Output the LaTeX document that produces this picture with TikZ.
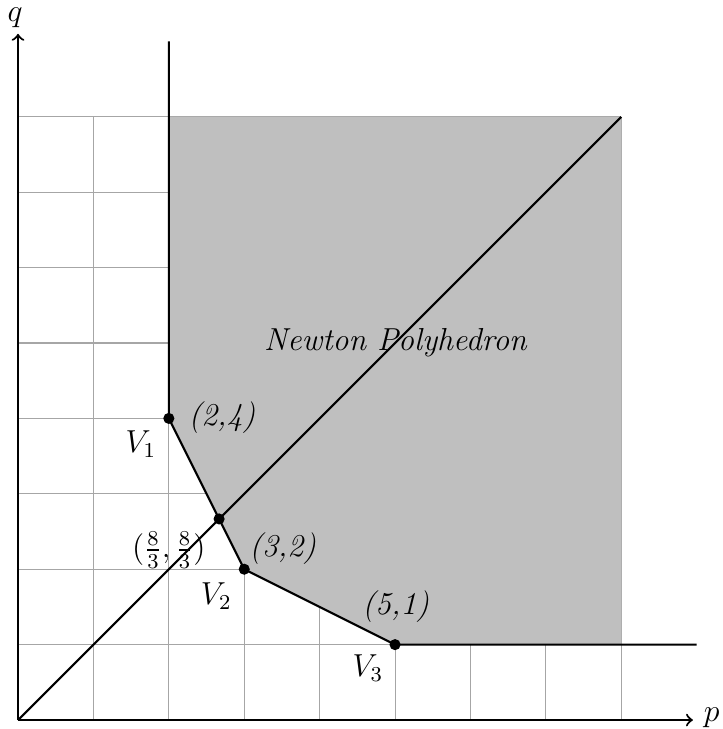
\documentclass[tikz,border=0pt]{standalone}
\begin{document}
\begin{tikzpicture}[x=1cm,y=1cm,
  gridline/.style={gray!70, line width=0.4pt},
  edge/.style={black, thick},
  vdot/.style={circle, fill=black, inner sep=0pt, minimum size=4.2pt},
  lbl/.style={font=\large, inner sep=0pt}]
\useasboundingbox (-0.239,-0.119) rectangle (9.337,9.549);
\draw[gridline] (0,0) grid (8,8);
\fill[gray!50] (2,8) -- (2,4) -- (8/3,8/3) -- (3,2) -- (5,1) -- (8,1) -- (8,8) -- cycle;
\draw[thick,->] (0,0) -- (8.95,0);
\draw[thick,->] (0,0) -- (0,9.1);
\node[lbl] (p) at (9.2,0.03) {$p$};
\node[lbl] (q) at (-0.04,9.31) {$q$};
\node[vdot] (v1) at (2,4) {};
\node[vdot] (m) at (8/3,8/3) {};
\node[vdot] (v2) at (3,2) {};
\node[vdot] (v3) at (5,1) {};
\coordinate (o) at (0,0);
\coordinate (d) at (8,8);
\coordinate (top) at (2,9);
\coordinate (right) at (9,1);
\draw[edge] (top) -- (v1.center) -- (m.center) -- (v2.center) -- (v3.center) -- (right);
\draw[edge] (o) -- (d);
\node[lbl] (l1) at (2.705,4.005) {\textit{(2,4)}};
\node[lbl] (n1) at (1.63,3.66) {$V_1$};
\node[lbl] (lm) at (2.0,2.25) {$(\frac{8}{3},\frac{8}{3})$};
\node[lbl] (l2) at (3.51,2.28) {\textit{(3,2)}};
\node[lbl] (n2) at (2.63,1.64) {$V_2$};
\node[lbl] (l3) at (5.01,1.50) {\textit{(5,1)}};
\node[lbl] (n3) at (4.64,0.69) {$V_3$};
\node[lbl] (np) at (5.01,5.0) {\textit{Newton Polyhedron}};
\end{tikzpicture}
\end{document}
